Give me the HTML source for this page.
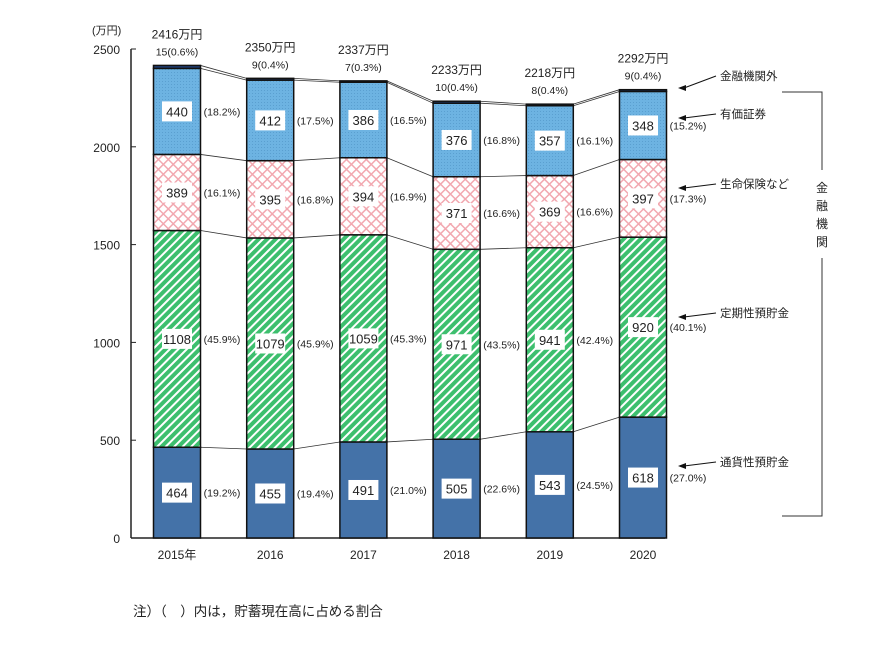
<!DOCTYPE html>
<html><head><meta charset="utf-8"><style>
body{margin:0;background:#fff;}
svg text{font-family:"Liberation Sans","Noto Sans CJK JP",sans-serif;fill:#222;}
</style></head><body>
<svg id="chart" width="870" height="665" xmlns="http://www.w3.org/2000/svg">
<defs>
<pattern id="pGreen" width="6" height="6" patternUnits="userSpaceOnUse" patternTransform="rotate(45)">
<rect width="6" height="6" fill="#3dbf6e"/><rect width="2" height="6" fill="#fff"/></pattern>
<pattern id="pPink" width="7" height="7" patternUnits="userSpaceOnUse" patternTransform="rotate(45)">
<rect width="7" height="7" fill="#fff"/><rect width="7" height="1.5" fill="#f2a8b0"/><rect width="1.5" height="7" fill="#f2a8b0"/></pattern>
<pattern id="pBlue" width="3" height="3" patternUnits="userSpaceOnUse">
<rect width="3" height="3" fill="#6db3e2"/><rect width="1" height="1" fill="#5a9fd0"/></pattern>
</defs>
<g id="plot"></g>
</svg>
<script>
const years=["2015年","2016","2017","2018","2019","2020"];
const tsuka=[464,455,491,505,543,618];
const teiki=[1108,1079,1059,971,941,920];
const seimei=[389,395,394,371,369,397];
const yuka=[440,412,386,376,357,348];
const gaibu=[15,9,7,10,8,9];
const totals=[2416,2350,2337,2233,2218,2292];
const pTsuka=["19.2","19.4","21.0","22.6","24.5","27.0"];
const pTeiki=["45.9","45.9","45.3","43.5","42.4","40.1"];
const pSeimei=["16.1","16.8","16.9","16.6","16.6","17.3"];
const pYuka=["18.2","17.5","16.5","16.8","16.1","15.2"];
const pGaibu=["0.6","0.4","0.3","0.4","0.4","0.4"];
const yTicks=[0,500,1000,1500,2000,2500];

const NS="http://www.w3.org/2000/svg";
const g=document.getElementById('plot');
function el(t,a,txt){const e=document.createElementNS(NS,t);for(const k in a)e.setAttribute(k,a[k]);if(txt!=null)e.textContent=txt;g.appendChild(e);return e;}
const y0=538,yTop=49,vMax=2500;
const Y=v=>y0-(v/vMax)*(y0-yTop);
const X=i=>177+i*93.2;
const bw=47;

let a=el('line',{x1:131,y1:yTop,x2:131,y2:y0,stroke:'#222','stroke-width':1.5});

a=el('line',{x1:131,y1:y0,x2:665,y2:y0,stroke:'#222','stroke-width':1.5});

yTicks.forEach(t=>{
 el('line',{x1:131,y1:Y(t),x2:136,y2:Y(t),stroke:'#222'});
 const tx=el('text',{x:120,y:Y(t)+5,'text-anchor':'end','font-size':12},t);
 
});
let u=el('text',{x:92,y:34,'font-size':11},'(万円)');


const series=[
 {v:tsuka,p:pTsuka,fill:'#4472a8',name:'tsuka'},
 {v:teiki,p:pTeiki,fill:'url(#pGreen)',name:'teiki'},
 {v:seimei,p:pSeimei,fill:'url(#pPink)',name:'seimei'},
 {v:yuka,p:pYuka,fill:'url(#pBlue)',name:'yuka'},
 {v:gaibu,p:pGaibu,fill:'#1f3f78',name:'gaibu'}];

const cum=years.map((_,i)=>{let c=[0];let s=0;series.forEach(se=>{s+=se.v[i];c.push(s);});return c;});
for(let i=0;i<years.length-1;i++){
 for(let k=1;k<cum[i].length;k++){
  const ln=el('line',{x1:X(i)+bw/2,y1:Y(cum[i][k]),x2:X(i+1)-bw/2,y2:Y(cum[i+1][k]),stroke:'#333','stroke-width':0.8});
  
 }
}
years.forEach((yr,i)=>{
 const cx=X(i);
 series.forEach((se,k)=>{
  const yA=Y(cum[i][k+1]),yB=Y(cum[i][k]);
  const r=el('rect',{x:cx-bw/2,y:yA,width:bw,height:yB-yA,fill:se.fill,stroke:'#111','stroke-width':1.5});
  
  if(k<4){
   const my=(yA+yB)/2;
   const bx=el('rect',{x:cx-15,y:my-10,width:30,height:20,fill:'#fff'});
   
   const t=el('text',{x:cx,y:my+5,'text-anchor':'middle','font-size':13},se.v[i]);
   
   const pt=el('text',{x:cx+45,y:my+4,'text-anchor':'middle','font-size':10.5},'('+se.p[i]+'%)');
   
  }
 });
 const top=Y(totals[i]);
 const gl=el('text',{x:cx,y:top-10,'text-anchor':'middle','font-size':10.5},gaibu[i]+'('+pGaibu[i]+'%)');
 
 const tl=el('text',{x:cx,y:top-27,'text-anchor':'middle','font-size':12},totals[i]+'万円');
 
 const xl=el('text',{x:cx,y:559,'text-anchor':'middle','font-size':12},yr);
 
});

const ann=[["金融機関外",88,80],["有価証券",118,118],["生命保険など",188,188],["定期性預貯金",317,317],["通貨性預貯金",466,466]];
ann.forEach(([t,ay,ty])=>{
 const l=el('line',{x1:716,y1:ty-4,x2:684,y2:ay,stroke:'#111','stroke-width':1});
 
 el('polygon',{points:`678,${ay} 686,${ay-3} 686,${ay+3}`,fill:'#111'});
 const tx=el('text',{x:720,y:ty,'font-size':11.5},t);
 
});
el('polyline',{points:'782,92 822,92 822,170',fill:'none',stroke:'#333'});
el('polyline',{points:'822,258 822,516 782,516',fill:'none',stroke:'#333'});
['金','融','機','関'].forEach((c,j)=>{const t=el('text',{x:822,y:192+j*18,'text-anchor':'middle','font-size':12},c);
 });
const n=el('text',{x:133,y:616,'font-size':13.5},'注）（　）内は，貯蓄現在高に占める割合');

</script>
</body></html>
